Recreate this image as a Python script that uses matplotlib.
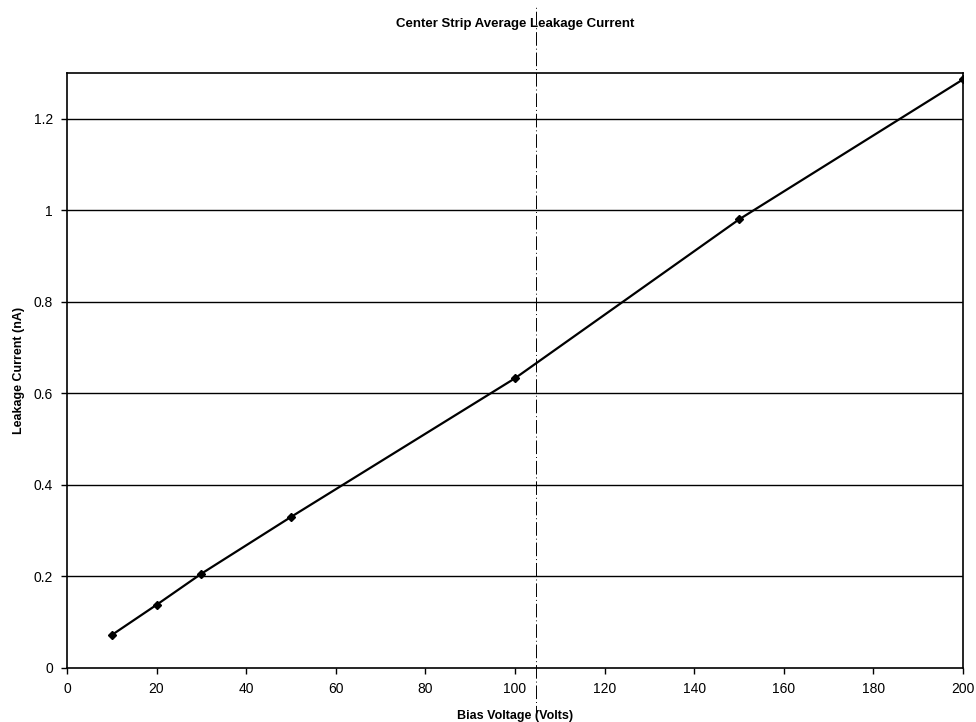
import numpy as np
import matplotlib
matplotlib.use("Agg")
import matplotlib.pyplot as plt

plt.rcParams['font.family'] = ['Liberation Sans', 'DejaVu Sans']

# bias voltage (V) and average center strip leakage current (nA)
bias_volts = [10, 20, 30, 50, 100, 150, 200]
leakage_na = [0.072, 0.138, 0.206, 0.330, 0.633, 0.980, 1.286]

x_ticks = [0, 20, 40, 60, 80, 100, 120, 140, 160, 180, 200]
y_ticks = [0, 0.2, 0.4, 0.6, 0.8, 1.0, 1.2]
y_tick_labels = ["0", "0.2", "0.4", "0.6", "0.8", "1", "1.2"]

marker_volts = 104.7  # the dash-dot vertical line

fig = plt.figure(figsize=(9.76, 7.22), dpi=100)
ax = fig.add_axes([0.0686, 0.0748, 0.9181, 0.8241])

for y in y_ticks[1:]:
    ax.axhline(y, color='black', lw=1.0, zorder=1)

ax.plot(bias_volts, leakage_na, color='black', lw=1.6, marker='D',
        markersize=4.5, zorder=3)

ax.axvline(marker_volts, ymin=-0.085, ymax=1.115, color='black', lw=0.7,
           ls=(0, (14, 3, 1, 3)), clip_on=False, zorder=4)

ax.set_xlim(0, 200)
ax.set_ylim(0, 1.3)
ax.set_xticks(x_ticks)
ax.set_yticks(y_ticks)
ax.set_yticklabels(y_tick_labels)
ax.tick_params(direction='out', length=4, width=1, labelsize=10, pad=6)

for s in ax.spines.values():
    s.set_linewidth(1.2)

ax.set_title("Center Strip Average Leakage Current", fontsize=9.5,
             fontweight='bold', pad=33)
ax.set_xlabel("Bias Voltage (Volts)", fontsize=9, fontweight='bold', labelpad=10)
ax.set_ylabel("Leakage Current (nA)", fontsize=9, fontweight='bold', labelpad=6)

fig.savefig("out.png", dpi=100)
